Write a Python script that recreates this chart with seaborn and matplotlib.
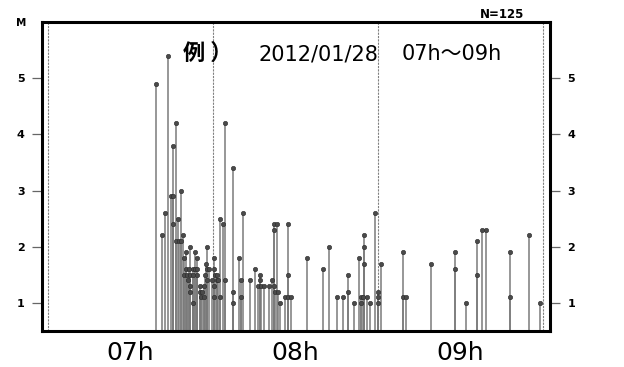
import numpy as np
import pandas as pd
import matplotlib
matplotlib.use("Agg")
import matplotlib.pyplot as plt
import seaborn as sns

# ==========================================
# DATA (minutes after 07:00, magnitude M)
# ==========================================
event_min = [
    39.3, 41.4, 42.4, 43.6, 44.8, 45.3, 45.4, 45.5, 46.5, 46.5,
    47.2, 47.5, 48.5, 48.5, 49.0, 49.3, 49.5, 50.1, 50.3, 50.5,
    50.9, 51.2, 51.5, 51.5, 51.5, 51.7, 52.6, 52.6, 52.7, 53.3,
    53.5, 54.2, 54.2, 54.2, 55.4, 55.4, 55.6, 56.6, 56.1, 56.6,
    57.2, 57.6, 57.7, 58.0, 58.4, 57.9, 59.6, 60.2, 60.2, 60.2,
    60.5, 60.7, 61.5, 61.5, 61.7, 62.4, 62.6, 63.5, 64.5, 64.5,
    67.3, 67.3, 67.3, 69.3, 70.2, 70.2, 71.1, 73.3, 75.2, 76.3,
    77.2, 77.2, 77.4, 78.4, 80.5, 81.5, 82.1, 82.3, 82.3, 83.3,
    82.7, 83.5, 84.3, 86.3, 87.3, 87.3, 87.3, 88.2, 94.2, 100.1,
    102.2, 105.0, 107.2, 109.1, 109.1, 111.2, 113.0, 113.9, 113.9, 114.5,
    115.1, 115.1, 115.1, 116.1, 117.0, 119.1, 120.1, 120.1, 120.1, 121.2,
    129.1, 129.1, 130.1, 139.2, 147.9, 147.9, 151.9, 155.9, 155.9, 157.7,
    159.2, 167.9, 167.9, 174.8, 178.9,
]
event_mag = [
    4.9, 2.2, 2.6, 5.4, 2.9, 2.4, 3.8, 2.9, 4.2, 2.1,
    2.5, 2.1, 3.0, 2.1, 2.2, 1.8, 1.5, 1.6, 1.9, 1.5,
    1.4, 1.6, 2.0, 1.3, 1.2, 1.5, 1.0, 1.6, 1.5, 1.9,
    1.6, 1.8, 1.6, 1.5, 1.3, 1.2, 1.1, 1.3, 1.2, 1.1,
    1.5, 1.7, 1.6, 2.0, 1.6, 1.4, 1.4, 1.8, 1.6, 1.3,
    1.1, 1.5, 1.5, 1.4, 1.4, 2.5, 1.1, 2.4, 4.2, 1.4,
    3.4, 1.2, 1.0, 1.8, 1.4, 1.1, 2.6, 1.4, 1.6, 1.3,
    1.5, 1.4, 1.3, 1.3, 1.3, 1.4, 1.3, 2.4, 2.3, 2.4,
    1.2, 1.2, 1.0, 1.1, 2.4, 1.5, 1.1, 1.1, 1.8, 1.6,
    2.0, 1.1, 1.1, 1.5, 1.2, 1.0, 1.8, 1.1, 1.0, 1.1,
    2.2, 2.0, 1.7, 1.1, 1.0, 2.6, 1.2, 1.1, 1.0, 1.7,
    1.9, 1.1, 1.1, 1.7, 1.9, 1.6, 1.0, 2.1, 1.5, 2.3,
    2.3, 1.9, 1.1, 2.2, 1.0,
]
hour_lines = [0, 60, 120, 180]
hour_label_pos = [30, 90, 150]
hour_labels = ["07h", "08h", "09h"]
mag_ticks = [1, 2, 3, 4, 5]
title_date = "2012/01/28"
title_range = "07h～09h"

df = pd.DataFrame({"t": event_min, "M": event_mag})

# ==========================================
# PLOT
# ==========================================
sns.set_style("white")
plt.rcParams["font.family"] = ["DejaVu Sans", "Noto Sans CJK JP"]
plt.rcParams["text.color"] = "black"
plt.rcParams["xtick.color"] = "black"
plt.rcParams["ytick.color"] = "black"

fig = plt.figure(figsize=(6.24, 3.67), dpi=100)
ax = fig.add_axes([42 / 624, 1 - 331 / 367, 508 / 624, 309 / 367])

y_bottom = 0.5
ax.set_xlim(-2.2, 182.6)
ax.set_ylim(y_bottom, 6.0)

# hour guide lines
for h in hour_lines:
    ax.axvline(h, color="#808080", lw=0.8, ls=(0, (2, 1)), zorder=1)

# stems + heads
ax.vlines(df["t"], y_bottom, df["M"], color="#7a7a7a", lw=1.1, zorder=2)
sns.scatterplot(data=df, x="t", y="M", ax=ax, color="#4a4a4a",
                edgecolor="#2a2a2a", linewidth=0.4, s=10, zorder=3, legend=False)

# frame
for sp in ax.spines.values():
    sp.set_color("black")
    sp.set_linewidth(2.2)

# y axis on both sides
ax.set_yticks(mag_ticks)
ax.set_yticklabels([str(m) for m in mag_ticks], fontsize=8, fontweight="bold")
ax.tick_params(axis="y", which="major", direction="out", length=7.5, width=0.9,
               color="#666666", left=True, right=True, labelleft=True, labelright=True,
               pad=5)

# x axis: ticks at the hours, labels centred in each hour
ax.set_xticks(hour_lines)
ax.set_xticklabels([])
ax.set_xticks(hour_label_pos, minor=True)
ax.set_xticklabels(hour_labels, minor=True, fontsize=18)
ax.tick_params(axis="x", which="major", direction="out", length=5, width=0.9, color="#666666")
ax.tick_params(axis="x", which="minor", length=0, pad=7)
ax.set_xlabel("")
ax.set_ylabel("")

# title texts inside the frame
ax.text((183 - 42) / 508, 0.877, "例 ）", transform=ax.transAxes, fontsize=16,
        fontweight="bold", ha="left", va="baseline",
        family=["Noto Sans CJK JP", "DejaVu Sans"])
ax.text((258 - 42) / 508, 0.877, title_date, transform=ax.transAxes, fontsize=15,
        ha="left", va="baseline")
ax.text((402 - 42) / 508, 0.877, title_range, transform=ax.transAxes, fontsize=15,
        ha="left", va="baseline")

fig.text(21.5 / 624, 1 - 23.5 / 367, "M", fontsize=7.5, fontweight="bold", ha="center", va="center")
fig.text(502 / 624, 1 - 14 / 367, f"N={len(event_mag)}", fontsize=8.5, fontweight="bold",
         ha="center", va="center")

fig.savefig("out.png", dpi=100)
plt.close(fig)
